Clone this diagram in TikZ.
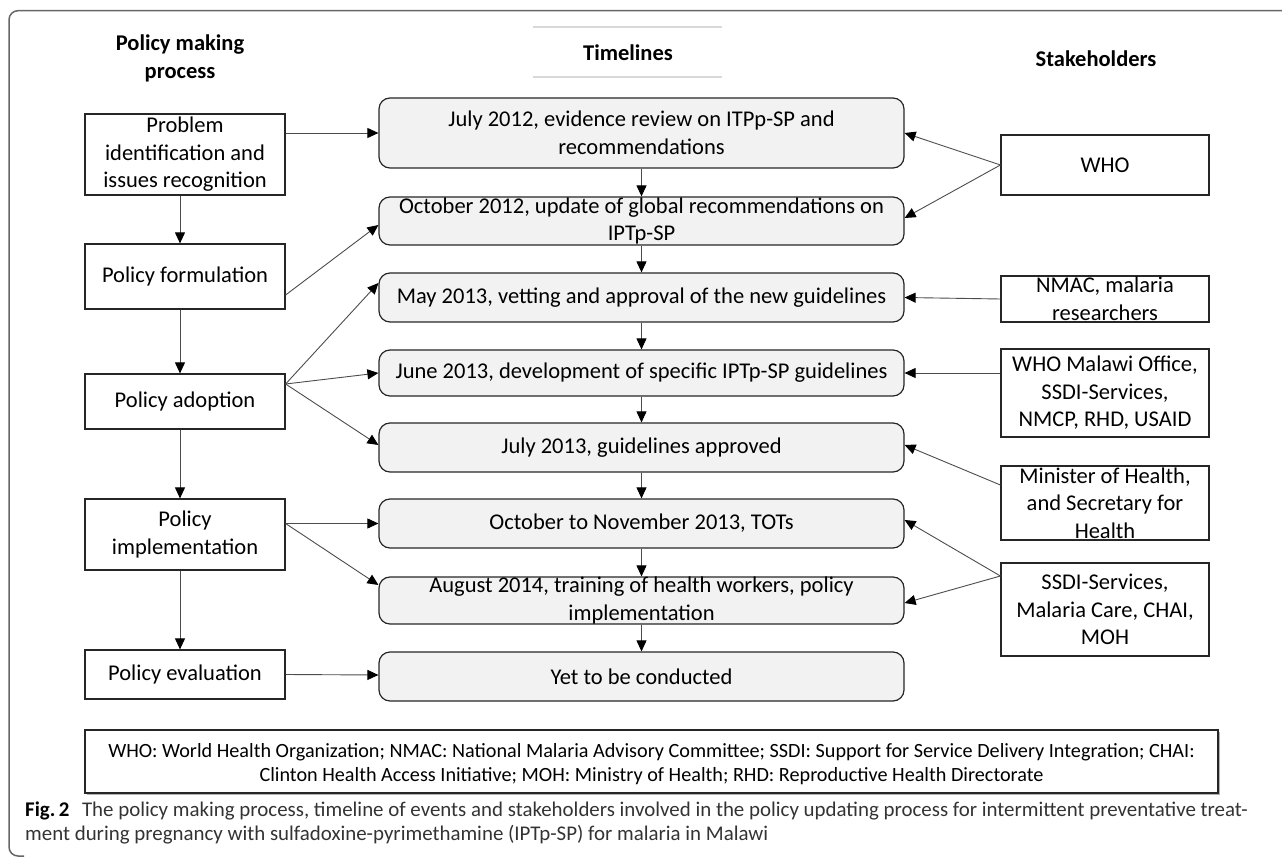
\documentclass[tikz,border=0pt]{standalone}
\usepackage{fontspec}
\setmainfont{Carlito}
\newfontfamily\capfont{Carlito}
\usetikzlibrary{arrows.meta}
\newcommand\bx[7]{%
  \node[#2,minimum width=#5pt,minimum height=#6pt] (#1) at (#3,#4) {};
  \node[txt] (#1-t) at (#1) {#7};}
\begin{document}
\begin{tikzpicture}[x=1pt,y=-1pt,
  lbox/.style={draw=black!85,line width=1.2pt,fill=white,inner sep=0pt},
  mbox/.style={draw=black!85,line width=1.2pt,fill=black!5,rounded corners=11pt,inner sep=0pt},
  txt/.style={inner sep=0pt,align=center,font=\fontsize{22.5}{27.5}\selectfont},
  hdr/.style={inner sep=0pt,align=center,font=\fontsize{22.5}{28}\selectfont\bfseries},
  arr/.style={draw=black!70,line width=0.9pt,-{Triangle[length=11pt,width=10pt,color=black]}},
  frame/.style={draw=black!60,line width=1.5pt,rounded corners=9pt}]
\useasboundingbox (0,0) rectangle (1282,858);
% outer frame
\draw[frame] (1290,10.7) -- (9,10.7) -- (9,856) -- (24,856);
% headers
\node[hdr] (h1) at (180,58) {Policy making\\process};
\node[hdr] (h2) at (628,53) {Timelines};
\node[hdr] (h3) at (1096,59) {Stakeholders};
\draw[black!15,line width=1.5pt] (533,27) -- (722,27);
\draw[black!15,line width=1.5pt] (533,77) -- (722,77);
% left column
\bx{prob}{lbox}{185}{154.5}{200}{81}{Problem\\identification and\\issues recognition}
\bx{form}{lbox}{185}{276.5}{200}{65}{Policy formulation}
\bx{adop}{lbox}{185}{401.5}{200}{55}{Policy adoption}
\bx{impl}{lbox}{185}{534.5}{200}{71}{Policy\\implementation}
\bx{eval}{lbox}{185}{674.5}{200}{49}{Policy evaluation}
% middle column
\bx{b1}{mbox}{641.5}{133}{525}{70}{July 2012, evidence review on ITPp-SP and\\recommendations}
\bx{b2}{mbox}{641.5}{221}{525}{48}{October 2012, update of global recommendations on\\IPTp-SP}
\bx{b3}{mbox}{641.5}{297.5}{525}{49}{May 2013, vetting and approval of the new guidelines}
\bx{b4}{mbox}{641.5}{373}{525}{46}{June 2013, development of specific IPTp-SP guidelines}
\bx{b5}{mbox}{641.5}{447.5}{525}{49}{July 2013, guidelines approved}
\bx{b6}{mbox}{641.5}{523.5}{525}{49}{October to November 2013, TOTs}
\bx{b7}{mbox}{641.5}{600.5}{525}{47}{August 2014, training of health workers, policy\\implementation}
\bx{b8}{mbox}{641.5}{676.5}{525}{49}{Yet to be conducted}
% right column
\bx{who}{lbox}{1105}{165}{208}{60}{WHO}
\bx{nmac}{lbox}{1105}{299}{208}{46}{NMAC, malaria\\researchers}
\bx{whom}{lbox}{1105}{393}{208}{88}{WHO Malawi Office,\\SSDI-Services,\\NMCP, RHD, USAID}
\bx{mini}{lbox}{1105}{503}{208}{74}{Minister of Health,\\and Secretary for\\Health}
\bx{ssdi}{lbox}{1105}{609.5}{208}{93}{SSDI-Services,\\Malaria Care, CHAI,\\MOH}
% legend
\fill[black!30] (87,732) rectangle (1220,795);
\node[lbox,minimum width=1133pt,minimum height=63pt] (leg) at (651.5,761.5) {};
\node[inner sep=0pt,align=center,font=\fontsize{20.2}{24.5}\selectfont] (leg-t) at (651.5,764) {WHO: World Health Organization; NMAC: National Malaria Advisory Committee; SSDI: Support for Service Delivery Integration; CHAI:\\Clinton Health Access Initiative; MOH: Ministry of Health; RHD: Reproductive Health Directorate};
% left arrows
\draw[arr] (prob.east |- b1.west) -- (b1.west);
\draw[arr] ([xshift=-5pt]prob.south) -- ([xshift=-5pt]form.north);
\draw[arr] ([xshift=-5pt]form.south) -- ([xshift=-5pt]adop.north);
\draw[arr] ([xshift=-5pt]adop.south) -- ([xshift=-5pt]impl.north);
\draw[arr] ([xshift=-5pt]impl.south) -- ([xshift=-5pt]eval.north);
\draw[arr] ([yshift=-18.5pt]form.east) -- ([yshift=-4pt]b2.west);
\draw[arr] ([yshift=17.5pt]adop.east) -- ([yshift=14.5pt]b3.west);
\draw[arr] ([yshift=17.5pt]adop.east) -- (b4.west);
\draw[arr] ([yshift=17.5pt]adop.east) -- ([yshift=2.5pt]b5.west);
\draw[arr] (impl.east |- b6.west) -- (b6.west);
\draw[arr] (impl.east |- b6.west) -- ([yshift=15.5pt]b7.west);
\draw[arr] (eval.east) -- ([yshift=1.5pt]b8.west);
% middle arrows
\draw[arr] (b1.south) -- (b2.north);
\draw[arr] (b2.south) -- (b3.north);
\draw[arr] (b3.south) -- (b4.north);
\draw[arr] (b4.south) -- (b5.north);
\draw[arr] (b5.south) -- (b6.north);
\draw[arr] (b6.south) -- (b7.north);
\draw[arr] (b7.south) -- (b8.north);
% right arrows
\draw[arr] (who.west) -- (b1.east);
\draw[arr] (who.west) -- ([yshift=3pt]b2.east);
\draw[arr] (nmac.west) -- (b3.east);
\draw[arr] (whom.west |- b4.east) -- (b4.east);
\draw[arr] ([yshift=18pt]mini.west) -- ([yshift=2.5pt]b5.east);
\draw[arr] ([yshift=33.5pt]ssdi.west) -- ([yshift=3.5pt]b6.east);
\draw[arr] ([yshift=33.5pt]ssdi.west) -- ([yshift=-2.5pt]b7.east);
% caption
\node[anchor=west,inner sep=0pt,font=\capfont\fontsize{20.9}{24}\selectfont,text=black!80] (cap1) at (25,811) {{\bfseries\color{black}Fig.\,2}\hspace{0.6em}The policy making process, timeline of events and stakeholders involved in the policy updating process for intermittent preventative treat-};
\node[anchor=west,inner sep=0pt,font=\capfont\fontsize{20.9}{24}\selectfont,text=black!80] (cap2) at (25,835) {ment during pregnancy with sulfadoxine-pyrimethamine (IPTp-SP) for malaria in Malawi};
\end{tikzpicture}
\end{document}
